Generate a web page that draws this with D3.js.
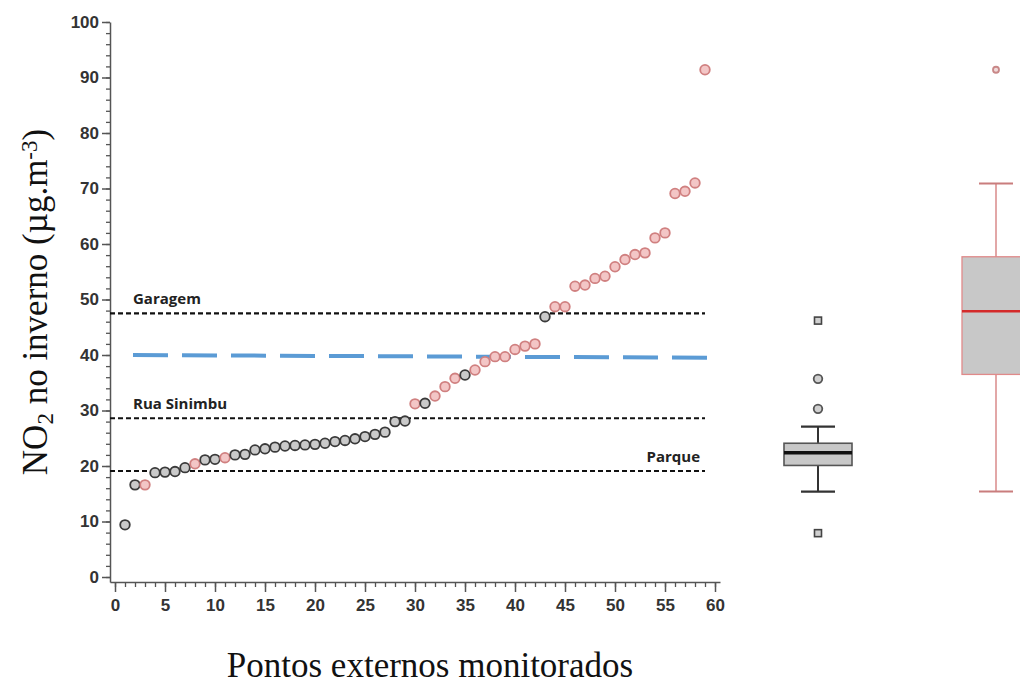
<!DOCTYPE html>
<html>
<head>
<meta charset="utf-8">
<script src="https://cdn.jsdelivr.net/npm/d3@7.9.0/dist/d3.min.js"></script>
<style>
  body { margin: 0; background: #fff; }
  .tick text { font-family: "Liberation Sans Narrow", "Liberation Sans", Arial, sans-serif; font-weight: bold; font-size: 17px; fill: #333; }
  .ref-label { font-family: "Open Sans", "Liberation Sans", sans-serif; font-weight: bold; font-size: 15px; fill: #222; }
  .title { font-family: "Liberation Serif", "Times New Roman", serif; font-size: 35px; fill: #111; }
</style>
</head>
<body>
<svg width="1020" height="684"></svg>
<script>
// points (ordered), value
const pointValues = [9.4, 16.6, 16.6, 18.8, 18.9, 19.0, 19.7, 20.4, 21.1, 21.2,
  21.5, 22.0, 22.1, 22.9, 23.1, 23.4, 23.6, 23.7, 23.8, 23.9,
  24.1, 24.4, 24.6, 24.9, 25.3, 25.7, 26.1, 28.0, 28.1, 31.2,
  31.3, 32.6, 34.3, 35.8, 36.4, 37.3, 38.8, 39.7, 39.7, 41.0,
  41.6, 42.0, 46.9, 48.7, 48.7, 52.4, 52.6, 53.8, 54.2, 55.9,
  57.2, 58.1, 58.4, 61.1, 62.0, 69.1, 69.5, 71.0, 91.4];
// which points are drawn pink
const pinkPoints = [3, 8, 11, 30, 32, 33, 34, 36, 37, 38, 39, 40, 41, 42,
  44, 45, 46, 47, 48, 49, 50, 51, 52, 53, 54, 55, 56, 57, 58, 59];

// horizontal references
const refNames = ["Garagem", "Rua Sinimbu", "Parque"];
const refValues = [47.5, 28.6, 19.1];
const guideStart = [1.8, 40.0];
const guideEnd = [59.5, 39.5];

// box plots
const boxNames = ["cinza", "vermelho"];
const boxLow = [15.4, 15.4];
const boxQ1 = [20.1, 36.5];
const boxMedian = [22.4, 47.9];
const boxQ3 = [24.1, 57.7];
const boxHigh = [27.1, 70.9];
const outCircles = [["cinza", 30.3], ["cinza", 35.7], ["vermelho", 91.4]];
const outSquares = [["cinza", 7.9], ["cinza", 46.2]];

const xTicks = d3.range(0, 61, 5);
const yTicks = d3.range(0, 101, 10);

const svg = d3.select('svg');

let x = d3.scaleLinear().domain([-0.5, 60.5]).range([110, 720]);
let y = d3.scaleLinear().domain([-0.9, 100]).range([582, 22]);
let bx = d3.scalePoint().domain(boxNames).range([818, 996]);

// axes
let minorY = svg.append('g')
  .attr('transform', 'translate(110,0)')
  .call(d3.axisLeft(y).tickValues(d3.range(0, 101, 2)).tickSize(4).tickFormat(''));
minorY.select('.domain').remove();
minorY.selectAll('line').attr('stroke', '#555').attr('stroke-width', 1.3);

let yAxis = svg.append('g')
  .attr('transform', 'translate(110,0)')
  .call(d3.axisLeft(y).tickValues(yTicks).tickSize(8).tickSizeOuter(0).tickPadding(3));
yAxis.select('.domain').attr('stroke', '#555').attr('stroke-width', 1.5);
yAxis.selectAll('line').attr('stroke', '#555').attr('stroke-width', 1.5);

let minorX = svg.append('g')
  .attr('transform', 'translate(0,582)')
  .call(d3.axisBottom(x).tickValues(d3.range(0, 61, 1)).tickSize(5).tickFormat(''));
minorX.select('.domain').remove();
minorX.selectAll('line').attr('stroke', '#555').attr('stroke-width', 1.3);

let xAxis = svg.append('g')
  .attr('transform', 'translate(0,582)')
  .call(d3.axisBottom(x).tickValues(xTicks).tickSize(10).tickSizeOuter(0).tickPadding(7));
xAxis.select('.domain').attr('stroke', '#555').attr('stroke-width', 1.5);
xAxis.selectAll('line').attr('stroke', '#555').attr('stroke-width', 1.5);

// reference lines
svg.selectAll('line.ref')
  .data(refValues)
  .enter()
  .append('line')
  .attr('class', 'ref')
  .attr('x1', x(-0.5)).attr('x2', x(59))
  .attr('y1', (d) => y(d)).attr('y2', (d) => y(d))
  .attr('stroke', '#111')
  .attr('stroke-width', 2.2)
  .attr('stroke-dasharray', '5,3');

svg.selectAll('text.ref-label')
  .data(refNames)
  .enter()
  .append('text')
  .attr('class', 'ref-label')
  .attr('x', (d, i) => i === 2 ? x(58.5) : x(1.8))
  .attr('y', (d, i) => y(refValues[i]) - 9)
  .attr('text-anchor', (d, i) => i === 2 ? 'end' : 'start')
  .text((d) => d);

svg.append('line')
  .attr('x1', x(guideStart[0])).attr('y1', y(guideStart[1]))
  .attr('x2', x(guideEnd[0])).attr('y2', y(guideEnd[1]))
  .attr('stroke', '#5b9bd5')
  .attr('stroke-width', 4)
  .attr('stroke-dasharray', '35,14');

// points
svg.selectAll('circle.pt')
  .data(pointValues)
  .enter()
  .append('circle')
  .attr('class', 'pt')
  .attr('cx', (d, i) => x(i + 1))
  .attr('cy', (d) => y(d))
  .attr('r', 4.8)
  .attr('fill', (d, i) => pinkPoints.includes(i + 1) ? '#f3c6c6' : '#cacaca')
  .attr('stroke', (d, i) => pinkPoints.includes(i + 1) ? '#d08080' : '#3a3a3a')
  .attr('stroke-width', 1.8);

// box plots
boxNames.forEach((name, i) => {
  let cx = bx(name);
  let red = name === 'vermelho';
  let edge = red ? '#e08a8a' : '#555';
  let g = svg.append('g');
  g.append('line')
    .attr('x1', cx).attr('x2', cx)
    .attr('y1', y(boxLow[i])).attr('y2', y(boxHigh[i]))
    .attr('stroke', red ? '#d98a8a' : '#333')
    .attr('stroke-width', red ? 1.5 : 2);
  [boxLow[i], boxHigh[i]].forEach((v) => {
    g.append('line')
      .attr('x1', cx - 17).attr('x2', cx + 17)
      .attr('y1', y(v)).attr('y2', y(v))
      .attr('stroke', red ? '#c97d7d' : '#333')
      .attr('stroke-width', red ? 2 : 2.2);
  });
  g.append('rect')
    .attr('x', cx - 34).attr('width', 68)
    .attr('y', y(boxQ3[i])).attr('height', y(boxQ1[i]) - y(boxQ3[i]))
    .attr('fill', '#c8c8c8')
    .attr('stroke', edge)
    .attr('stroke-width', red ? 1.3 : 1.6);
  g.append('line')
    .attr('x1', cx - 34).attr('x2', cx + 34)
    .attr('y1', y(boxMedian[i])).attr('y2', y(boxMedian[i]))
    .attr('stroke', red ? '#d42a2a' : '#111')
    .attr('stroke-width', red ? 2.5 : 3.5);
});

svg.selectAll('circle.out')
  .data(outCircles)
  .enter()
  .append('circle')
  .attr('class', 'out')
  .attr('cx', (d) => bx(d[0]))
  .attr('cy', (d) => y(d[1]))
  .attr('r', (d) => d[0] === 'vermelho' ? 3 : 4.3)
  .attr('fill', (d) => d[0] === 'vermelho' ? '#f0dada' : '#d0d0d0')
  .attr('stroke', (d) => d[0] === 'vermelho' ? '#c98888' : '#555')
  .attr('stroke-width', 1.8);

svg.selectAll('rect.out')
  .data(outSquares)
  .enter()
  .append('rect')
  .attr('class', 'out')
  .attr('x', (d) => bx(d[0]) - 3.5)
  .attr('y', (d) => y(d[1]) - 3.5)
  .attr('width', 7).attr('height', 7)
  .attr('fill', '#d0d0d0')
  .attr('stroke', '#444')
  .attr('stroke-width', 1.6);

// titles
svg.append('text')
  .attr('class', 'title')
  .attr('x', 430).attr('y', 677)
  .attr('text-anchor', 'middle')
  .text('Pontos externos monitorados');

let yt = svg.append('text')
  .attr('class', 'title')
  .attr('transform', 'translate(47,302) rotate(-90)')
  .attr('text-anchor', 'middle');
yt.append('tspan').text('NO');
yt.append('tspan').attr('baseline-shift', '-25%').attr('font-size', '23px').text('2');
yt.append('tspan').text(' no inverno (µg.m');
yt.append('tspan').attr('baseline-shift', '45%').attr('font-size', '23px').text('-3');
yt.append('tspan').text(')');
</script>
</body>
</html>
